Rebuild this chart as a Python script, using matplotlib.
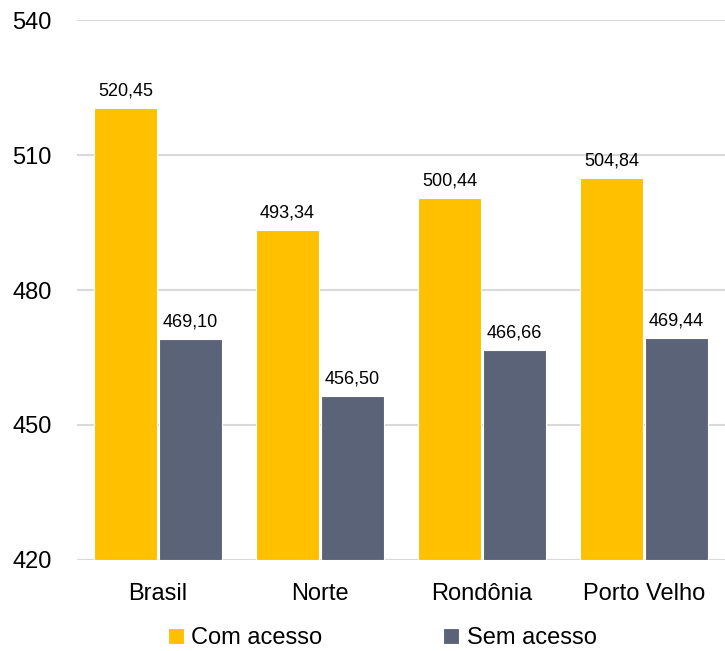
import matplotlib
matplotlib.use("Agg")
import matplotlib.pyplot as plt
import numpy as np

regions = ["Brasil", "Norte", "Rondônia", "Porto Velho"]
com_acesso = [520.45, 493.34, 500.44, 504.84]
sem_acesso = [469.10, 456.50, 466.66, 469.44]
series_names = ["Com acesso", "Sem acesso"]
y_ticks = [420, 450, 480, 510, 540]

YELLOW = "#FFC000"
SLATE = "#5B6378"

plt.rcParams["font.family"] = ["Liberation Sans", "DejaVu Sans"]


def fmt(v):
    return f"{v:.2f}".replace(".", ",")


fig = plt.figure(figsize=(7.25, 6.51), dpi=100)
ax = fig.add_axes([0.106, 0.14, 0.894, 0.829])

x = np.arange(len(regions))
width = 0.39
offset = 0.2
ax.bar(x - offset, [v - 420 for v in com_acesso], width, bottom=420,
       color=YELLOW, edgecolor="white", linewidth=0.8, label=series_names[0], zorder=3)
ax.bar(x + offset, [v - 420 for v in sem_acesso], width, bottom=420,
       color=SLATE, edgecolor="white", linewidth=0.8, label=series_names[1], zorder=3)

for xs, vals in ((x - offset, com_acesso), (x + offset, sem_acesso)):
    for xi, v in zip(xs, vals):
        ax.annotate(fmt(v), (xi, v), xytext=(0, 6), textcoords="offset points",
                    ha="center", va="bottom", fontsize=13)

ax.set_xlim(-0.5, len(regions) - 0.5)
ax.set_ylim(420, 540)
ax.set_yticks(y_ticks)
ax.set_xticks(x)
ax.set_xticklabels(regions, fontsize=17)
ax.tick_params(axis="y", labelsize=17, length=0, pad=18)
ax.tick_params(axis="x", length=0, pad=17)
ax.grid(axis="y", color="#d9d9d9", linewidth=1.5, zorder=0)
for side in ("top", "right", "left", "bottom"):
    ax.spines[side].set_visible(False)
ax.axhline(420, color="#d9d9d9", linewidth=1.5, zorder=2)

fig.legend(loc="lower center", bbox_to_anchor=(0.527, -0.03), ncol=2, frameon=False,
           fontsize=17, handlelength=0.7, handleheight=0.7, handletextpad=0.3,
           columnspacing=5.1)

fig.savefig("out.png", dpi=100)
